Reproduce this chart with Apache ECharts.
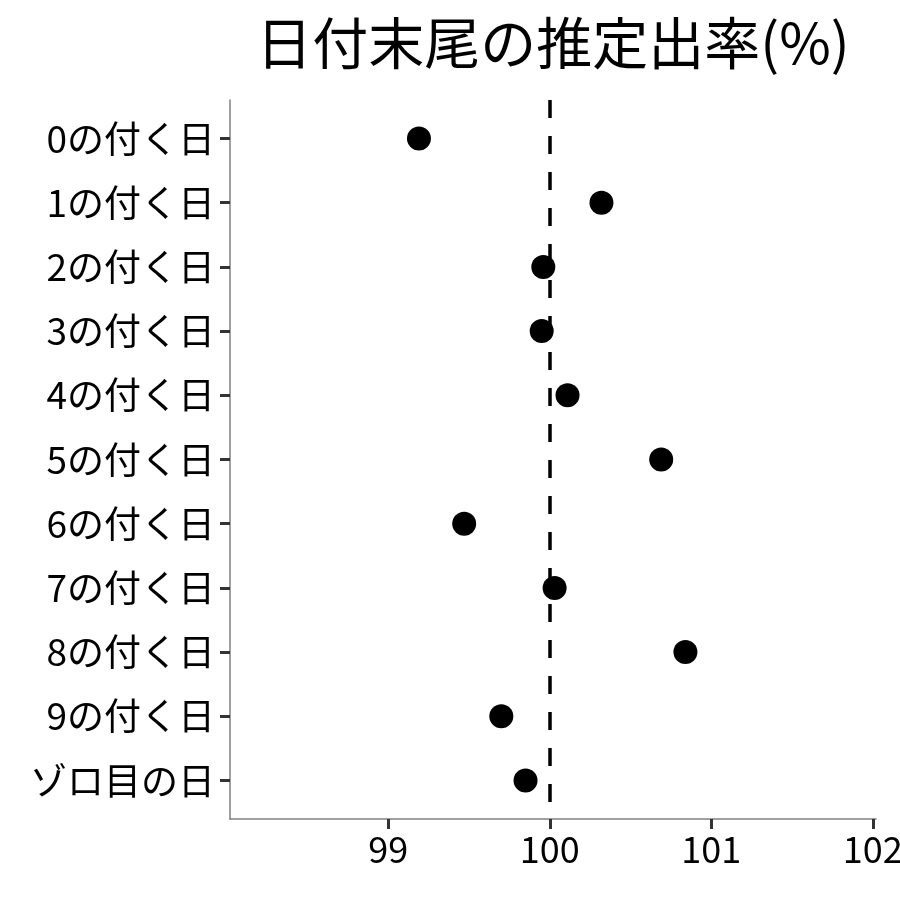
<!DOCTYPE html>
<html>
<head>
<meta charset="utf-8">
<script src="https://cdn.jsdelivr.net/npm/echarts@6/dist/echarts.min.js"></script>
<style>
  html, body { margin: 0; padding: 0; background: #fff; }
  #chart { width: 900px; height: 900px; }
</style>
</head>
<body>
<div id="chart"></div>
<script>
// 日付末尾ごとの推定出率（%）
const categories = ['0の付く日', '1の付く日', '2の付く日', '3の付く日', '4の付く日', '5の付く日',
  '6の付く日', '7の付く日', '8の付く日', '9の付く日', 'ゾロ目の日']
const rates = [99.19, 100.32, 99.96, 99.95, 100.11, 100.69, 99.47, 100.03, 100.84, 99.70, 99.85]
const xTicks = [99, 100, 101, 102]
const refValue = 100

const font = 'Noto Sans CJK JP'
const chart = echarts.init(document.getElementById('chart'))

const option = {
  backgroundColor: '#fff',
  animation: false,
  title: {
    text: '日付末尾の推定出率(%)',
    left: 548,
    top: 10,
    textAlign: 'center',
    textStyle: { fontFamily: font, fontSize: 56, fontWeight: 'normal', color: '#000' },
  },
  grid: { left: 230, right: 24, top: 100, bottom: 81, outerBoundsMode: 'none' },
  xAxis: {
    type: 'value',
    min: 98.02,
    max: 102.02,
    axisLine: { show: true, onZero: false, lineStyle: { color: '#808080', width: 1.5 } },
    axisTick: { show: true, length: 10, lineStyle: { color: '#333', width: 3 }, customValues: xTicks },
    axisLabel: { fontFamily: font, fontSize: 36, color: '#000', margin: 12, customValues: xTicks },
    splitLine: { show: false },
  },
  yAxis: {
    type: 'value',
    inverse: true,
    min: -0.6,
    max: categories.length - 1 + 0.6,
    axisLine: { show: true, onZero: false, lineStyle: { color: '#808080', width: 1.5 } },
    axisTick: { show: true, length: 10, lineStyle: { color: '#333', width: 3 }, customValues: categories.map((_, i) => i) },
    axisLabel: {
      fontFamily: font, fontSize: 37, color: '#000', margin: 15,
      customValues: categories.map((_, i) => i),
      formatter: (v) => categories[Math.round(v)] || '',
    },
    splitLine: { show: false },
  },
  series: [
    {
      type: 'scatter',
      symbol: 'circle',
      symbolSize: 24,
      itemStyle: { color: '#000', opacity: 1 },
      data: rates.map((r, i) => [r, i]),
      markLine: {
        silent: true,
        symbol: 'none',
        label: { show: false },
        lineStyle: { color: '#000', width: 3.5, type: [18, 18], opacity: 1 },
        data: [{ xAxis: refValue }],
      },
    },
  ],
}

chart.setOption(option)
</script>
</body>
</html>
